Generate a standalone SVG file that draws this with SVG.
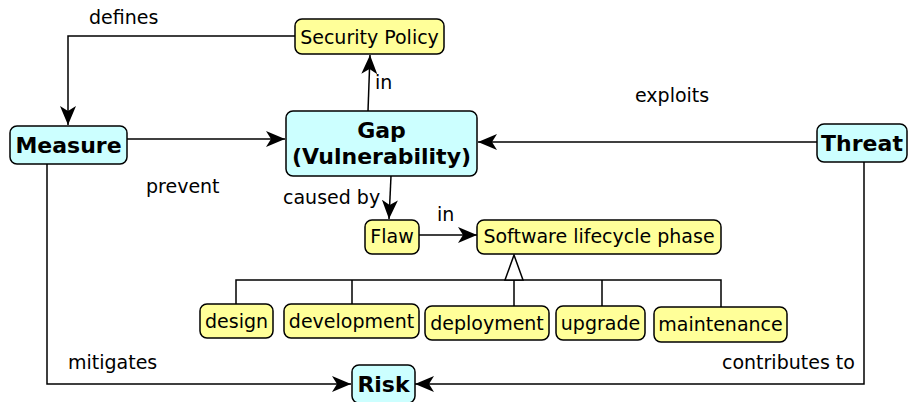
<svg xmlns="http://www.w3.org/2000/svg" width="909" height="402" viewBox="0 0 909 402">
<style>
.n rect{stroke:#000;stroke-width:1.5}
.c{fill:#ccffff}
.y{fill:#ffff99}
text{font-family:"DejaVu Sans","Liberation Sans",sans-serif;fill:#000}
.t{font-size:19px}
.b{font-size:22px;font-weight:bold}
.e{fill:none;stroke:#000;stroke-width:1.5}
</style>
<defs>
<marker id="a" viewBox="0 0 20 16" refX="19" refY="8" markerWidth="20" markerHeight="16" markerUnits="userSpaceOnUse" orient="auto">
<path d="M0,0 L19,8 L0,16 L5,8 Z" fill="#000"/>
</marker>
</defs>
<g id="connectors">
<path class="e" d="M295,36 H68 V125" marker-end="url(#a)"/>
<path class="e" d="M368,111 L370,55" marker-end="url(#a)"/>
<path class="e" d="M127,139 H285" marker-end="url(#a)"/>
<path class="e" d="M817,142 H478" marker-end="url(#a)"/>
<path class="e" d="M391,176 L389,219" marker-end="url(#a)"/>
<path class="e" d="M419,235 H477" marker-end="url(#a)"/>
<path class="e" d="M47,164 V384 H351" marker-end="url(#a)"/>
<path class="e" d="M864,162 V384 H415" marker-end="url(#a)"/>
<path class="e" d="M236,304 V280 H721 V307 M352,280 V304 M514,280 V306 M602,280 V306"/>
<path d="M514,255 L505,280 L523,280 Z" fill="#fff" stroke="#000" stroke-width="1.5"/>
<text class="t" x="89" y="24">defines</text>
<text class="t" x="375" y="89">in</text>
<text class="t" x="146" y="193">prevent</text>
<text class="t" x="635" y="102">exploits</text>
<text class="t" x="283" y="204">caused by</text>
<text class="t" x="437" y="221">in</text>
<text class="t" x="68" y="369">mitigates</text>
<text class="t" x="722" y="369">contributes to</text>
</g>
<g id="security-policy" class="n"><rect class="y" x="295" y="19" width="149" height="35" rx="7"/><text class="t" x="369.5" y="44" text-anchor="middle">Security Policy</text></g>
<g id="measure" class="n"><rect class="c" x="10" y="126" width="117" height="38" rx="7"/><text class="b" x="68.5" y="153" text-anchor="middle">Measure</text></g>
<g id="gap" class="n"><rect class="c" x="286" y="111" width="191" height="65" rx="7"/><text class="b" x="381.5" y="138" text-anchor="middle">Gap</text><text class="b" x="381.5" y="164" text-anchor="middle">(Vulnerability)</text></g>
<g id="threat" class="n"><rect class="c" x="817" y="124" width="90" height="38" rx="7"/><text class="b" x="862" y="151" text-anchor="middle">Threat</text></g>
<g id="flaw" class="n"><rect class="y" x="365" y="220" width="54" height="34" rx="7"/><text class="t" x="392" y="243" text-anchor="middle">Flaw</text></g>
<g id="slp" class="n"><rect class="y" x="477" y="220" width="244" height="34" rx="7"/><text class="t" x="599" y="243" text-anchor="middle">Software lifecycle phase</text></g>
<g id="design" class="n"><rect class="y" x="200" y="304" width="73" height="34" rx="7"/><text class="t" x="236.5" y="328" text-anchor="middle">design</text></g>
<g id="development" class="n"><rect class="y" x="284" y="304" width="135" height="34" rx="7"/><text class="t" x="351.5" y="328" text-anchor="middle">development</text></g>
<g id="deployment" class="n"><rect class="y" x="425" y="306" width="124" height="34" rx="7"/><text class="t" x="487" y="330" text-anchor="middle">deployment</text></g>
<g id="upgrade" class="n"><rect class="y" x="556" y="306" width="89" height="34" rx="7"/><text class="t" x="600.5" y="330" text-anchor="middle">upgrade</text></g>
<g id="maintenance" class="n"><rect class="y" x="654" y="307" width="133" height="35" rx="7"/><text class="t" x="720.5" y="331" text-anchor="middle">maintenance</text></g>
<g id="risk" class="n"><rect class="c" x="352" y="365" width="63" height="38" rx="7"/><text class="b" x="383.5" y="392" text-anchor="middle">Risk</text></g>
</svg>
